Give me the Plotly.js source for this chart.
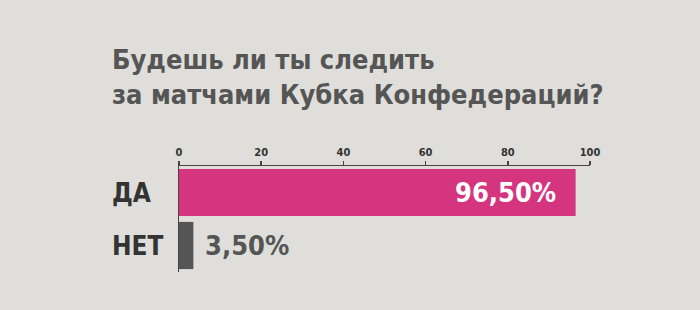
<!DOCTYPE html>
<html>
<head>
<meta charset="utf-8">
<script src="https://cdn.plot.ly/plotly-3.0.1.min.js"></script>
<style>html,body{margin:0;padding:0;background:#dfdeda;}#chart{width:700px;height:310px;}</style>
</head>
<body>
<div id="chart"></div>
<script>
const titleLines = ["Будешь ли ты следить", "за матчами Кубка Конфедераций?"];
const categories = ["ДА", "НЕТ"];
const values = [96.5, 3.5];
const barColors = ["#d5347f", "#555555"];
const labelColors = ["#ffffff", "#555555"];
const tickValues = [0, 20, 40, 60, 80, 100];

const FONT = "'DejaVu Sans Condensed', 'Liberation Sans Narrow', sans-serif";
const PLOT_L = 179, PLOT_W = 411, PLOT_T = 166, PLOT_H = 106;

function fmt(v) { return v.toFixed(2).replace('.', ',') + '%'; }

const trace = {
  type: 'bar',
  orientation: 'h',
  x: values,
  y: categories,
  marker: { color: barColors, line: { width: 0 } },
  hoverinfo: 'skip'
};

const annotations = [];
categories.forEach((c, i) => {
  annotations.push({
    x: (110 - PLOT_L) / PLOT_W, xref: 'paper', y: c, yref: 'y',
    xanchor: 'left', yanchor: 'middle',
    text: '<b>' + c + '</b>', showarrow: false,
    font: { family: FONT, size: 26, color: '#333333' }
  });
  const inside = values[i] > 50;
  annotations.push({
    x: values[i], xref: 'x', y: c, yref: 'y',
    xanchor: inside ? 'right' : 'left', xshift: inside ? -18 : 10,
    text: '<b>' + fmt(values[i]) + '</b>', showarrow: false,
    font: { family: FONT, size: 27, color: labelColors[i] }
  });
});
annotations.push({
  x: (110 - PLOT_L) / PLOT_W, xref: 'paper', xanchor: 'left',
  y: (PLOT_T + PLOT_H - 42) / PLOT_H, yref: 'paper', yanchor: 'top',
  text: '<b>' + titleLines.join('<br>') + '</b>', showarrow: false, align: 'left',
  font: { family: FONT, size: 27, color: '#555555' }
});

const layout = {
  width: 700, height: 310,
  paper_bgcolor: '#dfdeda', plot_bgcolor: '#dfdeda',
  margin: { l: PLOT_L, r: 700 - PLOT_L - PLOT_W, t: PLOT_T, b: 310 - PLOT_T - PLOT_H },
  showlegend: false,
  bargap: 0.11,
  separators: ',.',
  xaxis: {
    side: 'top', range: [0, 100], tickvals: tickValues,
    showgrid: false, zeroline: false,
    showline: true, linecolor: '#444444', linewidth: 1.5,
    ticks: 'outside', ticklen: 4, tickcolor: '#444444', tickwidth: 1.5,
    tickfont: { family: FONT, size: 11, color: '#333333', weight: 'bold' },
    fixedrange: true
  },
  yaxis: {
    categoryorder: 'array', categoryarray: categories, autorange: 'reversed',
    showticklabels: false, showgrid: false, zeroline: false,
    showline: true, linecolor: '#444444', linewidth: 1.5, ticks: '',
    fixedrange: true
  },
  annotations: annotations
};

Plotly.newPlot('chart', [trace], layout, { displayModeBar: false, staticPlot: true });
</script>
</body>
</html>
